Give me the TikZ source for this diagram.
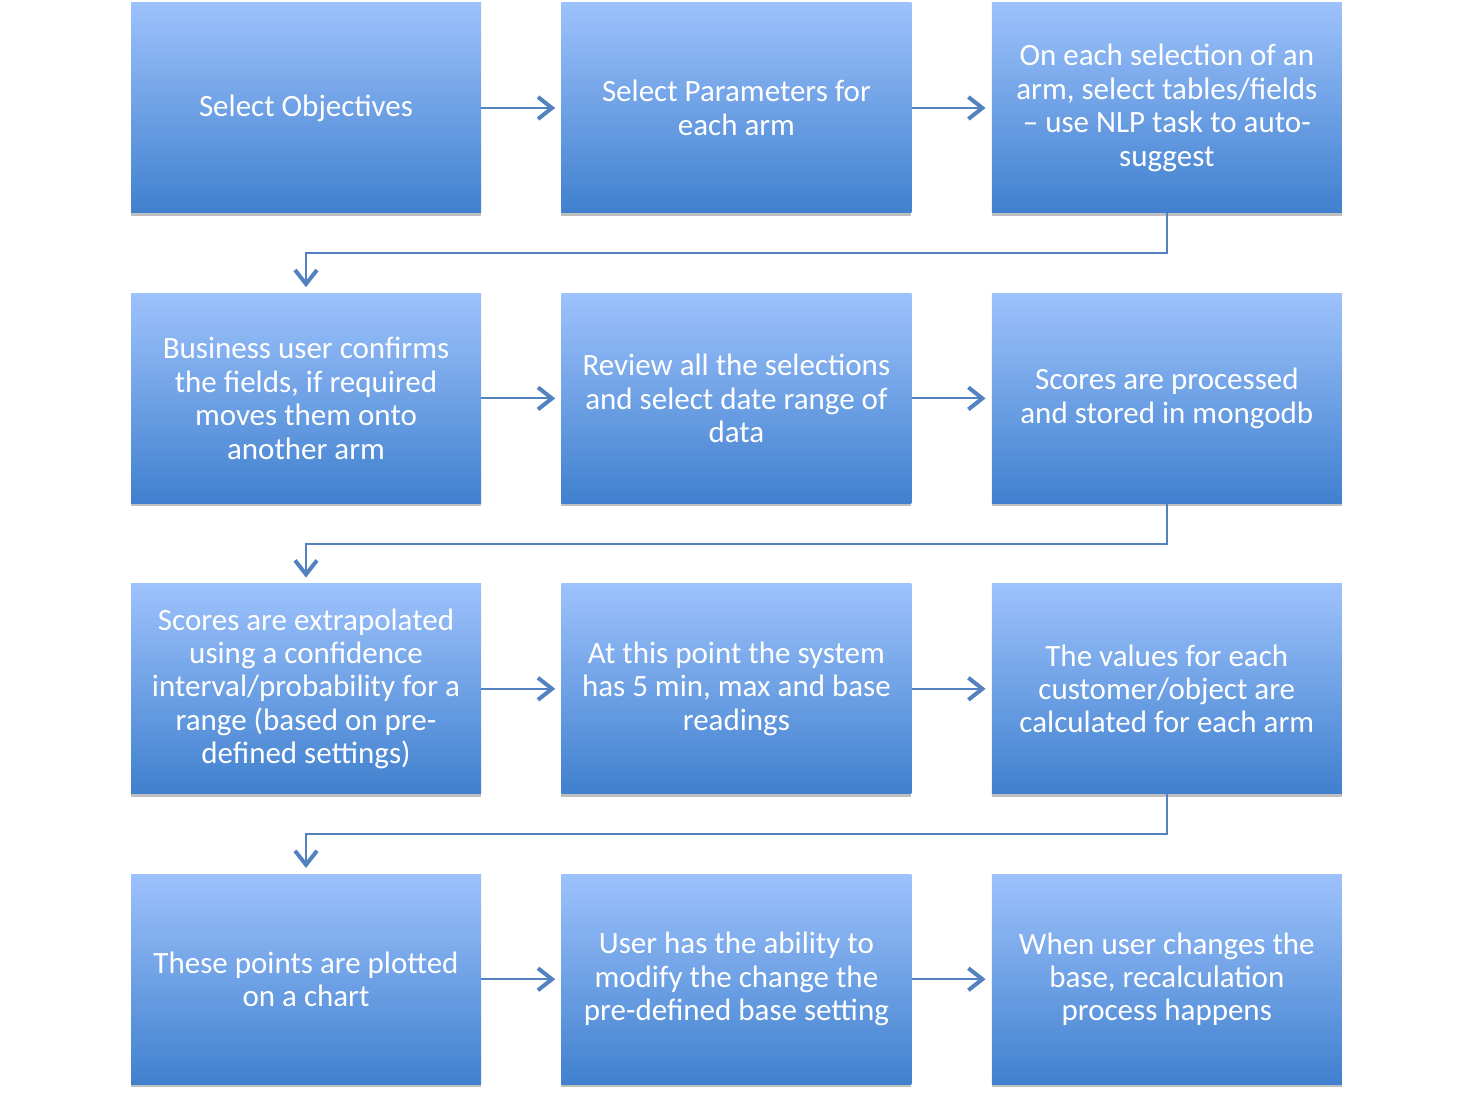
\documentclass[tikz,border=0pt]{standalone}
\usepackage{fontspec}
\setmainfont{Carlito}
\usetikzlibrary{positioning,shadows,arrows.meta}

\definecolor{boxtop}{RGB}{157,194,252}
\definecolor{boxbot}{RGB}{64,128,206}
\definecolor{linkblue}{RGB}{84,130,192}

\begin{document}
\begin{tikzpicture}[x=1pt,y=1pt,
    stepbox/.style={minimum width=350pt, minimum height=210pt, inner sep=0pt,
        top color=boxtop, bottom color=boxbot, text=white, align=center,
        font=\fontsize{31}{33.4}\selectfont,
        drop shadow={shadow xshift=0pt, shadow yshift=-3pt, opacity=.25, fill=black}},
    link/.style={draw=linkblue, line width=2pt, shorten >=6pt,
        -{Straight Barb[length=14pt, width=22pt, line width=4pt]}}]

    \useasboundingbox (0,0) rectangle (1472,-1094);

    %first row
        \node[stepbox] (objectives) at (306,-108) {Select Objectives};
        \node[stepbox, right=80pt of objectives] (params) {Select Parameters for\\each arm};
        \node[stepbox, right=80pt of params] (fields) {On each selection of an\\arm, select tables/fields\\– use NLP task to auto-\\suggest};

    %second row
        \node[stepbox, below=80pt of objectives] (confirm) {Business user confirms\\the fields, if required\\moves them onto\\another arm};
        \node[stepbox, right=80pt of confirm] (review) {Review all the selections\\and select date range of\\data};
        \node[stepbox, right=80pt of review] (scores) {Scores are processed\\and stored in mongodb};

    %third row
        \node[stepbox, below=80pt of confirm] (extrap) {Scores are extrapolated\\using a confidence\\interval/probability for a\\range (based on pre-\\defined settings)};
        \node[stepbox, right=80pt of extrap] (readings) {At this point the system\\has 5 min, max and base\\readings};
        \node[stepbox, right=80pt of readings] (values) {The values for each\\customer/object are\\calculated for each arm};

    %fourth row
        \node[stepbox, below=80pt of extrap] (plotted) {These points are plotted\\on a chart};
        \node[stepbox, right=80pt of plotted] (modify) {User has the ability to\\modify the change the\\pre-defined base setting};
        \node[stepbox, right=80pt of modify] (recalc) {When user changes the\\base, recalculation\\process happens};

    %arrows along each row
        \draw[link] (objectives) -- (params);
        \draw[link] (params) -- (fields);
        \draw[link] (confirm) -- (review);
        \draw[link] (review) -- (scores);
        \draw[link] (extrap) -- (readings);
        \draw[link] (readings) -- (values);
        \draw[link] (plotted) -- (modify);
        \draw[link] (modify) -- (recalc);

    %elbows down to the next row
        \draw[link] (fields.south) -- ++(0,-40) -| (confirm.north);
        \draw[link] (scores.south) -- ++(0,-40) -| (extrap.north);
        \draw[link] (values.south) -- ++(0,-40) -| (plotted.north);

\end{tikzpicture}
\end{document}
